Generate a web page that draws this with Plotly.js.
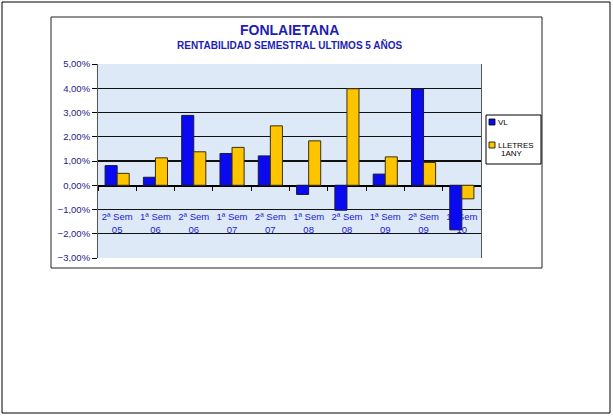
<!DOCTYPE html>
<html>
<head>
<meta charset="utf-8">
<script src="https://cdn.plot.ly/plotly-3.0.1.min.js"></script>
<style>
html,body{margin:0;padding:0;background:#fff;}
#chart{width:613px;height:416px;}
</style>
</head>
<body>
<div id="chart"></div>
<script>
var categories = ["2ª Sem<br>05","1ª Sem<br>06","2ª Sem<br>06","1ª Sem<br>07","2ª Sem<br>07","1ª Sem<br>08","2ª Sem<br>08","1ª Sem<br>09","2ª Sem<br>09","1ª Sem<br>10"];
var vl      = [0.81, 0.33, 2.88, 1.31, 1.21, -0.38, -1.03, 0.46, 3.97, -1.84];
var lletres = [0.49, 1.13, 1.38, 1.56, 2.45, 1.83, 3.98, 1.17, 0.94, -0.56];
var seriesNames = ["VL", "LLETRES<br>1ANY"];
var seriesColors = ['#0a0af0', '#ffc400'];
var titleText = "FONLAIETANA";
var subtitleText = "RENTABILIDAD SEMESTRAL ULTIMOS 5 AÑOS";

var traces = [
  {type:'bar', x:categories, y:vl, name:seriesNames[0],
   marker:{color:seriesColors[0], line:{color:'#1a1a40', width:1}}},
  {type:'bar', x:categories, y:lletres, name:seriesNames[1],
   marker:{color:seriesColors[1], line:{color:'#3a3010', width:1}}}
];

var L=98, R=481, T=64, B=258, W=613, H=416;
function px(x){return (x-L)/(R-L);}
function py(y){return (B-y)/(B-T);}

var FONT='Liberation Sans, Arial, sans-serif';
var leg2 = seriesNames[1].split('<br>');

var layout = {
  width:W, height:H,
  margin:{l:L, r:W-R, t:T, b:H-B, pad:0},
  paper_bgcolor:'#ffffff',
  plot_bgcolor:'#dde9f6',
  separators:',.',
  barmode:'group',
  bargap:0.37,
  bargroupgap:0,
  showlegend:false,
  font:{family:FONT, size:9, color:'#22228a'},
  xaxis:{
    type:'category',
    anchor:'free', position:0.375,
    showline:true, linecolor:'#000', linewidth:1.5,
    ticks:'outside', ticklen:4, tickcolor:'#000', tickson:'boundaries',
    tickangle:0,
    ticklabelstandoff:22,
    tickfont:{family:FONT, size:9.5, color:'#1a1ad8'},
    showgrid:false, zeroline:false,
    layer:'below traces'
  },
  yaxis:{
    range:[-3,5], dtick:1, tick0:0,
    tickformat:'.2f', ticksuffix:'%',
    showline:true, linecolor:'#555', linewidth:1,
    ticks:'outside', ticklen:5, tickcolor:'#000',
    tickfont:{family:FONT, size:9.5, color:'#22228a'},
    showgrid:true, gridcolor:'#111', gridwidth:1.2,
    zeroline:false,
    mirror:true
  },
  annotations:[
    {text:'<b>'+titleText+'</b>', xref:'paper', yref:'paper', x:0.5, y:py(30), xanchor:'center', yanchor:'middle',
     showarrow:false, font:{family:FONT, size:14, color:'#1e1eb4'}},
    {text:'<b>'+subtitleText+'</b>', xref:'paper', yref:'paper', x:0.5, y:py(45.5), xanchor:'center', yanchor:'middle',
     showarrow:false, font:{family:FONT, size:10, color:'#1e1eb4'}},
    {text:seriesNames[0], xref:'paper', yref:'paper', x:px(496), y:py(122), xanchor:'left', yanchor:'middle',
     showarrow:false, align:'left', font:{family:FONT, size:8, color:'#000'}},
    {text:leg2[0], xref:'paper', yref:'paper', x:px(496), y:py(145), xanchor:'left', yanchor:'middle',
     showarrow:false, align:'left', font:{family:FONT, size:8, color:'#000'}},
    {text:leg2[1], xref:'paper', yref:'paper', x:px(499), y:py(153), xanchor:'left', yanchor:'middle',
     showarrow:false, align:'left', font:{family:FONT, size:8, color:'#000'}}
  ],
  shapes:[
    {type:'rect', xref:'paper', yref:'paper', x0:px(2), x1:px(610), y0:py(413), y1:py(2), line:{color:'#000', width:1}, layer:'below'},
    {type:'rect', xref:'paper', yref:'paper', x0:px(51), x1:px(542), y0:py(268), y1:py(17), line:{color:'#222', width:1}, layer:'below'},
    {type:'rect', xref:'paper', yref:'paper', x0:px(486), x1:px(541), y0:py(164), y1:py(115), line:{color:'#000', width:1}, fillcolor:'#ffffff'},
    {type:'rect', xref:'paper', yref:'paper', x0:px(489), x1:px(495), y0:py(125), y1:py(119), line:{color:'#000', width:0.8}, fillcolor:seriesColors[0]},
    {type:'rect', xref:'paper', yref:'paper', x0:px(489), x1:px(495), y0:py(148), y1:py(142), line:{color:'#000', width:0.8}, fillcolor:seriesColors[1]}
  ]
};

Plotly.newPlot('chart', traces, layout, {displayModeBar:false, staticPlot:true});
</script>
</body>
</html>
